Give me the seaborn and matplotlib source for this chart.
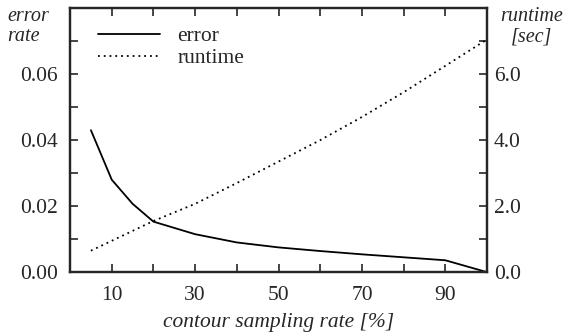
import seaborn as sns
import matplotlib.pyplot as plt
import pandas as pd
from matplotlib.ticker import MultipleLocator

# valores
taxa = [5, 10, 15, 20, 30, 40, 50, 60, 70, 80, 90, 100]
erro = [0.043, 0.028, 0.0207, 0.0153, 0.0115, 0.009, 0.0075, 0.0064, 0.0054, 0.0045, 0.0036, 0.0]
taxa_rt = [5, 10, 20, 30, 40, 50, 60, 70, 80, 90, 100]
runtime = [0.65, 0.95, 1.55, 2.07, 2.7, 3.35, 4.0, 4.7, 5.45, 6.25, 7.05]

df_erro = pd.DataFrame({'taxa': taxa, 'erro': erro})
df_rt = pd.DataFrame({'taxa': taxa_rt, 'runtime': runtime})

sns.set_style('ticks')
plt.rcParams['font.family'] = ['Liberation Serif', 'DejaVu Serif']
fs = 15.5

fig = plt.figure(figsize=(5.65, 3.36), dpi=100)
ax = fig.add_axes([0.124, 0.19, 0.738, 0.786])
ax2 = ax.twinx()

sns.lineplot(data=df_erro, x='taxa', y='erro', ax=ax, color='black', lw=1.3, label='error', legend=False)
sns.lineplot(data=df_rt, x='taxa', y='runtime', ax=ax2, color='black', lw=1.3,
             linestyle=(0, (1, 2.2)), label='runtime', legend=False)

ax.set_xlim(0, 100)
ax.set_ylim(0, 0.08)
ax2.set_ylim(0, 8)
ax.set_xticks([10, 30, 50, 70, 90])
ax.xaxis.set_minor_locator(MultipleLocator(10))
ax.set_yticks([0.0, 0.02, 0.04, 0.06])
ax.set_yticklabels(['0.00', '0.02', '0.04', '0.06'])
ax.yaxis.set_minor_locator(MultipleLocator(0.01))
ax2.set_yticks([0, 2, 4, 6])
ax2.set_yticklabels(['0.0', '2.0', '4.0', '6.0'])
ax2.yaxis.set_minor_locator(MultipleLocator(1))

for a in (ax, ax2):
    for s in a.spines.values():
        s.set_linewidth(1.6)
        s.set_visible(True)
    a.tick_params(which='both', direction='in', length=6, width=1.2, labelsize=fs)
ax.tick_params(which='both', top=True)
ax.tick_params(axis='x', which='both', pad=10)
ax.tick_params(axis='y', which='both', pad=9)
ax2.tick_params(axis='y', which='both', pad=5)

ax.set_xlabel('contour sampling rate [%]', style='italic', fontsize=fs, labelpad=6)
ax.set_ylabel('')
ax2.set_ylabel('')
fig.text(0.013, 0.98, 'error\nrate', style='italic', ha='left', va='top', linespacing=1.1, fontsize=14.5)
fig.text(0.94, 0.98, 'runtime\n[sec]', style='italic', ha='center', va='top', linespacing=1.1, fontsize=14.5)

h1, l1 = ax.get_legend_handles_labels()
h2, l2 = ax2.get_legend_handles_labels()
ax.legend(h1 + h2, l1 + l2, loc='upper left', bbox_to_anchor=(0.02, 1.005), frameon=False,
          handlelength=2.9, handletextpad=0.8, labelspacing=0.1, fontsize=fs)

fig.savefig('out.png', dpi=100)
